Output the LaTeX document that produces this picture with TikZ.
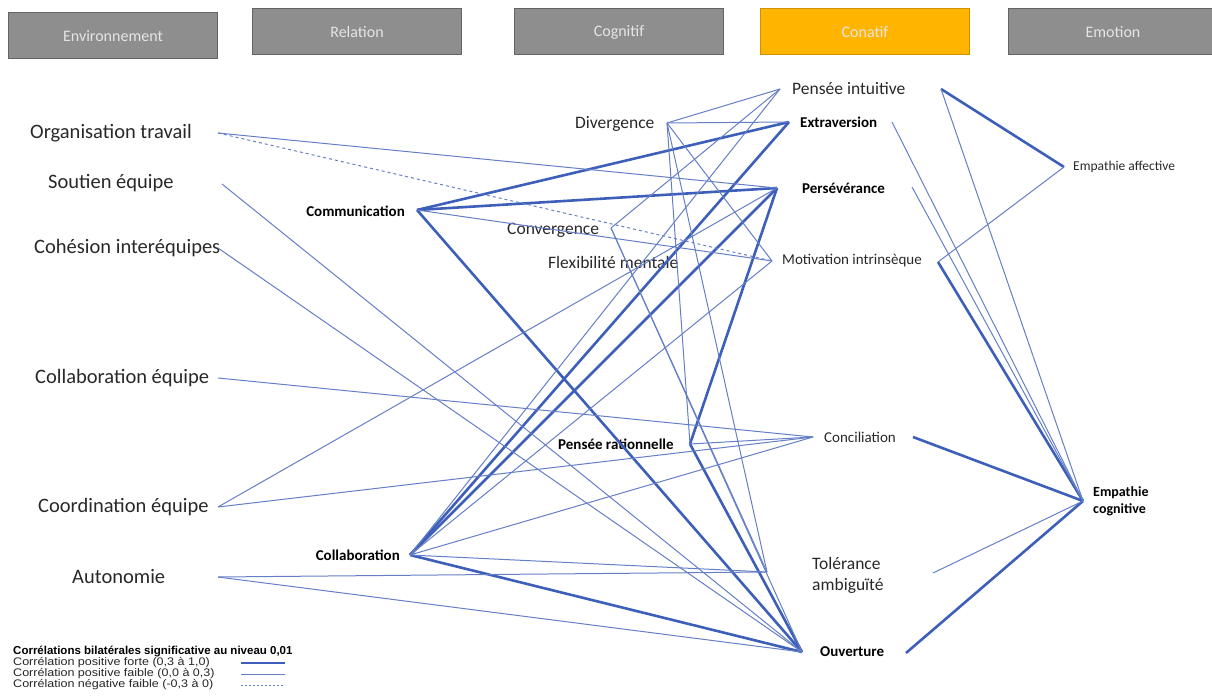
\documentclass[tikz,border=0pt]{standalone}
\usepackage{fontspec}
\setmainfont{Carlito}
\newfontfamily\legendfont{Liberation Sans}
\usetikzlibrary{positioning}
\definecolor{hdrgrey}{RGB}{142,142,142}
\definecolor{hdrgold}{RGB}{255,180,0}
\definecolor{linkblue}{RGB}{62,95,185}
\definecolor{txtgrey}{RGB}{40,40,40}
\newcommand{\wide}[1]{\scalebox{1.14}[1]{#1}}
\tikzstyle{hdr}=[fill=hdrgrey, draw=hdrgrey!70!black, line width=1pt, minimum width=209pt, minimum height=46pt, inner sep=0pt, text=white!90!black, font=\fontsize{16}{18}\selectfont]
\tikzstyle{var}=[inner sep=0pt, anchor=west, text=txtgrey, font=\fontsize{20.5}{24}\selectfont]
\tikzstyle{cog}=[var, font=\fontsize{17.5}{21}\selectfont]
\tikzstyle{con}=[var, font=\fontsize{15}{18}\selectfont]
\tikzstyle{key}=[var, text=black, font=\bfseries\fontsize{15}{18}\selectfont]
\tikzstyle{legend}=[inner sep=0pt, anchor=west, text=black!85, font=\legendfont\fontsize{11}{12}\selectfont]
\tikzstyle{strong}=[draw=linkblue, line width=2.6pt]
\tikzstyle{weak}=[draw=linkblue!80!white, line width=1pt]
\tikzstyle{neg}=[weak, dashed]

\begin{document}
\begin{tikzpicture}[x=1pt, y=-1pt]
    \useasboundingbox (0,0) rectangle (1212,700);
    % headers
    \node[hdr] (env) at (113,36) {Environnement};
    \node[hdr] (rel) at (357,32) {Relation};
    \node[hdr] (cgn) at (619,32) {Cognitif};
    \node[hdr, fill=hdrgold, draw=hdrgold!80!black] (cnt) at (865,32) {Conatif};
    \node[hdr] (emo) at (1113,32) {Emotion};

    % end points of the links
    \coordinate (ot) at (218,133);
    \coordinate (se) at (222,184);
    \coordinate (ci) at (218,248);
    \coordinate (ce) at (218,378);
    \coordinate (co) at (218,507);
    \coordinate (au) at (218,577);
    \coordinate (com) at (417,210);
    \coordinate (col) at (410,555);
    \coordinate (div) at (667,123);
    \coordinate (conv) at (611,228);
    \coordinate (pr) at (690,444);
    \coordinate (piL) at (780,89);
    \coordinate (piR) at (941,89);
    \coordinate (exL) at (789,122);
    \coordinate (exR) at (892,122);
    \coordinate (peL) at (777,188);
    \coordinate (peR) at (912,187);
    \coordinate (miL) at (772,261);
    \coordinate (miR) at (938,262);
    \coordinate (cnL) at (813,437);
    \coordinate (cnR) at (913,437);
    \coordinate (taL) at (767,572);
    \coordinate (taR) at (933,573);
    \coordinate (ouL) at (802,652);
    \coordinate (ouR) at (906,653);
    \coordinate (ea) at (1064,167);
    \coordinate (ec) at (1083,501);

    % labels
    \node[var] (otT) at (30,133) {Organisation travail};
    \node[var] (seT) at (48,183) {Soutien équipe};
    \node[var] (ciT) at (34,248) {Cohésion interéquipes};
    \node[var] (ceT) at (35,378) {Collaboration équipe};
    \node[var] (coT) at (38,507) {Coordination équipe};
    \node[var] (auT) at (72,577) {Autonomie};
    \node[key, anchor=east] (comT) at (405,211) {Communication};
    \node[key, anchor=east] (colT) at (400,555) {Collaboration};
    \node[cog] (divT) at (575,124) {Divergence};
    \node[cog] (convT) at (507,230) {Convergence};
    \node[cog] (flexT) at (548,262) {Flexibilité mentale};
    \node[key] (prT) at (558,444) {Pensée rationnelle};
    \node[cog] (piT) at (792,89) {Pensée intuitive};
    \node[key] (exT) at (800,122) {Extraversion};
    \node[key] (peT) at (802,188) {Persévérance};
    \node[con] (miT) at (782,261) {Motivation intrinsèque};
    \node[con] (cnT) at (824,437) {Conciliation};
    \node[cog, align=left] (taT) at (812,575) {Tolérance\\ambiguïté};
    \node[key] (ouT) at (820,652) {Ouverture};
    \node[con, font=\fontsize{13.5}{16}\selectfont] (eaT) at (1073,167) {Empathie affective};
    \node[key, align=left, font=\bfseries\fontsize{14}{17}\selectfont] (ecT) at (1093,501) {Empathie\\cognitive};

    % links
    \foreach \a/\b in {com/exL, com/peL, com/ouL, col/exL, col/peL, col/ouL,
        pr/peL, pr/ouL, piR/ea, miR/ec, cnR/ec, ouR/ec}
        \draw[strong] (\a) -- (\b);
    \foreach \a/\b in {ot/peL, se/ouL, ci/ouL, ce/cnL, co/peL, co/cnL, au/taL, au/ouL,
        com/miL, col/piL, col/miL, col/cnL, col/taL,
        div/piL, div/exL, div/miL, div/pr, div/taL, conv/piL, conv/taL, conv/ouL,
        pr/cnL, exR/ec, peR/ec, piR/ec, miR/ea, taR/ec}
        \draw[weak] (\a) -- (\b);
    \draw[neg] (ot) -- (miL);

    % legend
    \node[legend, text=black, font=\legendfont\bfseries\fontsize{11.5}{13}\selectfont] (legT) at (13,651) {Corrélations bilatérales significative au niveau 0,01};
    \node[legend] (legA) at (13,663) {\wide{Corrélation positive forte (0,3 à 1,0)}};
    \node[legend] (legB) at (13,674) {\wide{Corrélation positive faible (0,0 à 0,3)}};
    \node[legend] (legC) at (13,685) {\wide{Corrélation négative faible (-0,3 à 0)}};
    \coordinate (legA1) at (241,663);
    \coordinate (legA2) at (285,663);
    \coordinate (legB1) at (241,674);
    \coordinate (legB2) at (285,674);
    \coordinate (legC1) at (241,685);
    \coordinate (legC2) at (285,685);
    \draw[strong, line width=2pt] (legA1) -- (legA2);
    \draw[weak] (legB1) -- (legB2);
    \draw[neg, dash pattern=on 2pt off 2pt] (legC1) -- (legC2);
\end{tikzpicture}
\end{document}
